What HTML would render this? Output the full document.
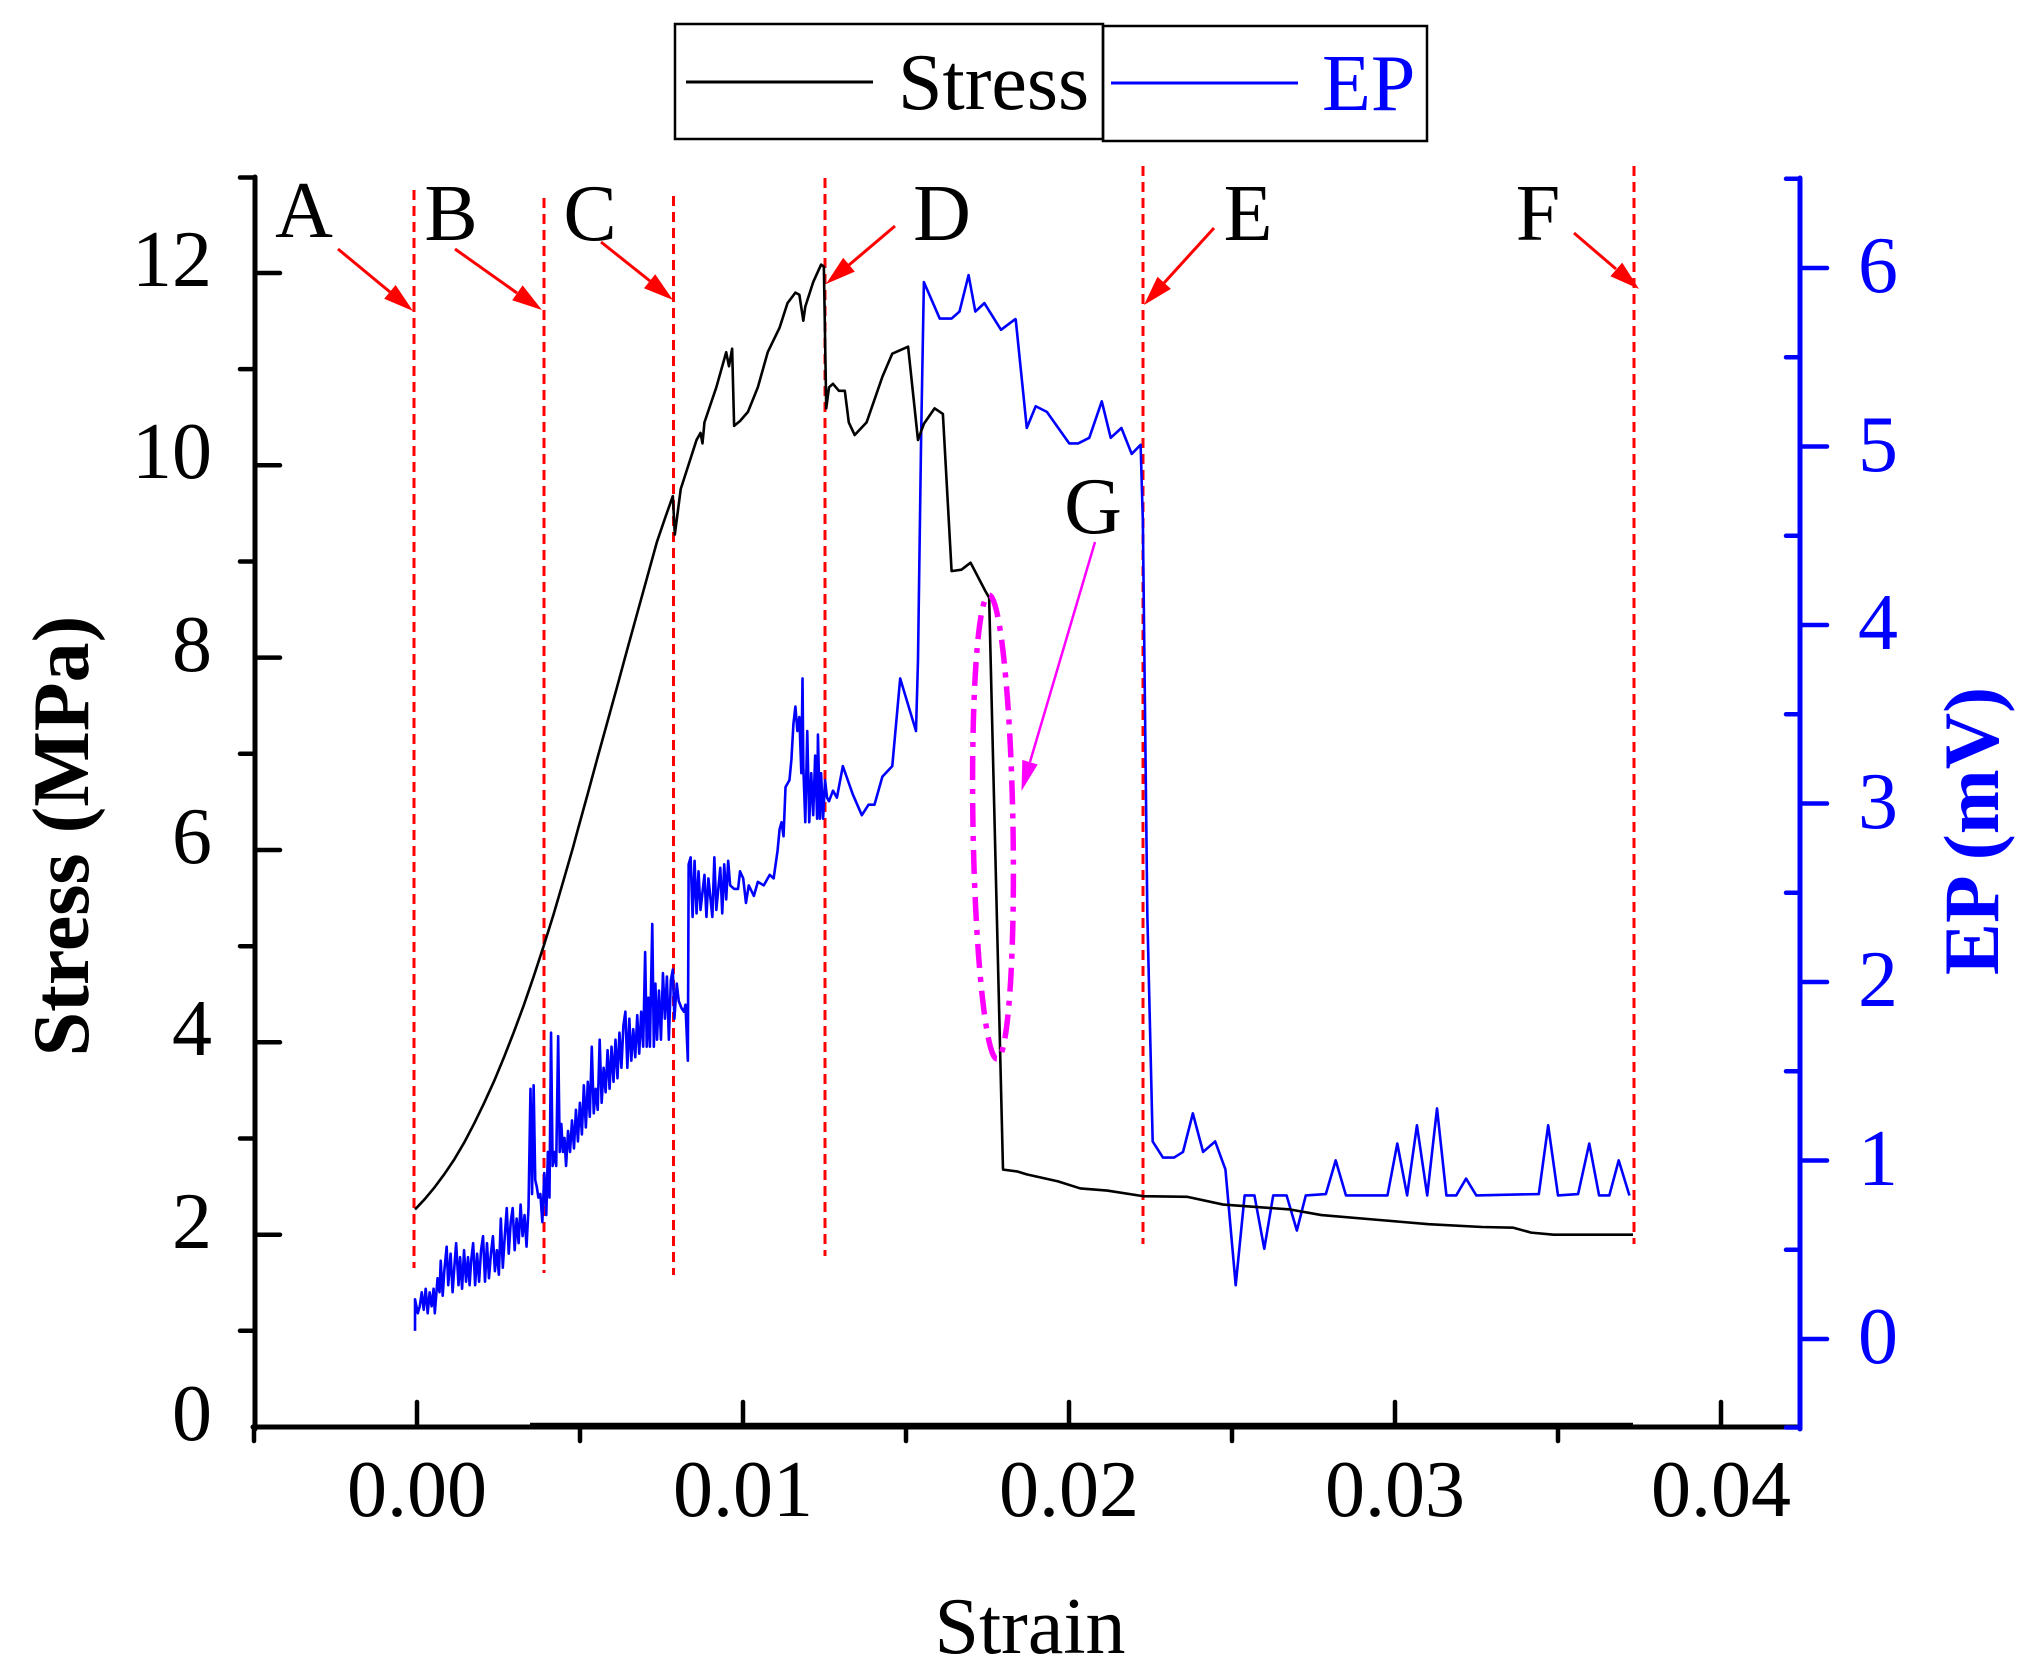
<!DOCTYPE html>
<html>
<head>
<meta charset="utf-8">
<style>
html,body{margin:0;padding:0;background:#fff;}
svg{display:block;}
text{font-family:"Liberation Serif","Times New Roman",serif;}
</style>
</head>
<body>
<svg width="2039" height="1676" viewBox="0 0 2039 1676" xmlns="http://www.w3.org/2000/svg">
<rect x="0" y="0" width="2039" height="1676" fill="#fff"/>

<!-- Legend -->
<rect x="675" y="24" width="428" height="115" fill="none" stroke="#000" stroke-width="2.5"/>
<rect x="1103" y="26" width="324" height="115" fill="none" stroke="#000" stroke-width="2.5"/>
<line x1="686" y1="82" x2="873" y2="82" stroke="#000" stroke-width="3"/>
<text x="898" y="109" font-size="80" fill="#000">Stress</text>
<line x1="1111" y1="83" x2="1298" y2="83" stroke="#0000ff" stroke-width="3"/>
<text x="1322" y="110" font-size="80" fill="#0000ff">EP</text>

<!-- thin near-zero line -->
<line x1="530" y1="1424" x2="1633" y2="1424" stroke="#000" stroke-width="2.5"/>

<!-- Red dashed vertical lines -->
<g stroke="#ff0000" stroke-width="3" stroke-dasharray="10 6" fill="none">
<line x1="414" y1="190" x2="414" y2="1268"/>
<line x1="544" y1="198" x2="544" y2="1273"/>
<line x1="673.5" y1="196" x2="673.5" y2="1275"/>
<line x1="825" y1="178" x2="825" y2="1256"/>
<line x1="1143" y1="166" x2="1143" y2="1244"/>
<line x1="1634" y1="166" x2="1634" y2="1244"/>
</g>

<!-- EP curve -->
<g transform="translate(400,240) scale(0.3954,0.7015)">
<polyline vector-effect="non-scaling-stroke" fill="none" stroke="#0000ff" stroke-width="2.6" stroke-linejoin="round" points="38,1555 38,1510 45,1530 50,1520 55,1500 60,1525 65,1495 70,1530 75,1500 80,1520 85,1495 88,1530 95,1480 100,1500 103,1455 108,1505 112,1470 118,1435 122,1490 128,1445 133,1500 138,1460 142,1430 148,1490 152,1450 157,1495 162,1440 167,1485 172,1450 176,1490 180,1455 185,1430 190,1490 195,1445 200,1485 205,1440 210,1420 215,1485 220,1430 225,1480 230,1445 235,1420 240,1470 245,1440 250,1475 255,1395 260,1465 265,1420 270,1380 275,1445 280,1400 285,1380 290,1440 295,1395 300,1430 305,1375 310,1420 315,1390 320,1435 325,1380 330,1210 334,1360 338,1205 342,1340 346,1350 350,1365 355,1360 360,1400 365,1330 370,1390 374,1300 378,1365 382,1130 386,1320 390,1300 395,1320 400,1135 404,1300 408,1260 412,1300 416,1280 420,1320 425,1270 430,1300 435,1255 440,1295 445,1240 450,1285 455,1230 460,1275 465,1205 470,1265 475,1200 480,1250 485,1150 490,1245 495,1210 500,1240 505,1140 510,1230 515,1180 520,1215 525,1155 530,1210 535,1150 540,1200 545,1140 550,1195 555,1130 560,1180 565,1120 570,1100 575,1180 580,1110 585,1170 590,1125 595,1165 600,1105 605,1160 610,1100 615,1150 620,1015 624,1150 628,1080 632,1150 638,975 642,1150 646,1060 650,1140 655,1070 660,1140 665,1045 670,1110 675,1050 680,1140 685,1055 690,1040 694,1110 700,1060 705,1085 712,1095 718,1100 722,1090 728,1170 730,890 735,880 740,965 745,885 750,960 755,900 760,955 770,905 775,965 780,910 790,965 795,880 800,955 810,895 815,960 820,890 825,940 830,885 835,920 845,925 855,925 860,900 868,910 875,945 882,920 895,935 905,915 920,920 935,905 945,910 955,870 960,840 965,830 970,850 975,780 985,770 990,740 995,690 1000,665 1005,700 1010,680 1015,760 1018,625 1020,750 1025,830 1030,700 1035,830 1040,760 1045,820 1050,735 1055,825 1057,705 1062,825 1065,760 1070,825 1075,770 1080,795 1085,800 1095,785 1105,795 1110,780 1120,750 1145,790 1168,820 1185,805 1200,805 1220,765 1245,750 1265,625 1305,700 1310,600 1318,280 1325,60 1365,112 1395,112 1415,102 1438,50 1455,102 1478,90 1520,128 1558,112"/>
</g>
<g transform="translate(1000,240) scale(0.4464,0.7015)">
<polyline vector-effect="non-scaling-stroke" fill="none" stroke="#0000ff" stroke-width="2.6" stroke-linejoin="round" points="35,112 60,268 80,237 105,245 155,290 175,290 200,282 228,230 248,282 272,268 295,305 315,292 320,400 330,960 342,1285 365,1308 390,1308 410,1300 432,1245 455,1300 482,1285 505,1325 528,1490 548,1362 570,1362 592,1438 612,1362 642,1362 665,1412 685,1362 730,1360 752,1312 775,1362 868,1362 890,1288 912,1362 934,1262 957,1362 979,1238 1000,1362 1022,1362 1044,1338 1067,1362 1207,1360 1228,1262 1250,1362 1295,1360 1320,1288 1342,1362 1365,1362 1386,1312 1410,1362"/>
</g>

<!-- Stress curve -->
<g transform="translate(400,240) scale(0.3954,0.7015)">
<polyline vector-effect="non-scaling-stroke" fill="none" stroke="#000" stroke-width="2.6" stroke-linejoin="round" points="38,1382 63,1367 88,1350 113,1331 138,1310 163,1286 188,1259 213,1230 238,1199 263,1165 288,1129 313,1091 338,1050 363,1007 388,962 413,914 438,865 450,840 475,789 500,737 525,686 550,635 575,583 600,532 625,481 650,430 670,397 690,365 695,420 710,355 730,320 750,285 760,275 765,290 770,260 800,210 825,160 832,180 840,155 845,265 860,258 880,245 905,210 930,160 960,125 980,90 1000,75 1010,78 1020,115 1025,95 1045,60 1065,35 1072,38 1078,240 1085,210 1095,205 1110,215 1125,215 1135,260 1150,278 1180,260 1220,195 1245,162 1285,152 1310,285 1325,262 1352,240 1373,248 1395,472 1420,470 1443,460 1480,500 1490,510 1525,1325"/>
</g>
<g transform="translate(1000,240) scale(0.4464,0.7015)">
<polyline vector-effect="non-scaling-stroke" fill="none" stroke="#000" stroke-width="2.6" stroke-linejoin="round" points="5,1325 40,1328 60,1332 130,1342 180,1352 240,1355 320,1363 420,1364 500,1375 650,1382 720,1390 850,1397 960,1403 1080,1407 1150,1408 1190,1415 1240,1418 1418,1418"/>
</g>

<!-- Magenta ellipse and arrow -->
<ellipse cx="993" cy="827" rx="20" ry="232" fill="none" stroke="#ff00ff" stroke-width="5.5" stroke-dasharray="24 9 5 9" transform="rotate(-1 993 827)"/>
<line x1="1095" y1="542" x2="1030" y2="762" stroke="#ff00ff" stroke-width="2.5"/>
<polygon points="1021.5,791 1037.7,764.5 1022.3,759.9" fill="#ff00ff"/>
<text x="1093" y="533" font-size="80" text-anchor="middle" fill="#000">G</text>

<!-- Red arrows -->
<g stroke="#ff0000" stroke-width="3">
<line x1="338" y1="249" x2="390" y2="292"/>
<line x1="455" y1="249" x2="517" y2="293"/>
<line x1="601" y1="242" x2="650" y2="281"/>
<line x1="895" y1="226" x2="849" y2="265"/>
<line x1="1214" y1="228" x2="1164" y2="283"/>
<line x1="1574" y1="233" x2="1616" y2="269"/>
</g>
<g fill="#ff0000">
<polygon points="413,311 384.2,298.8 395.6,285"/>
<polygon points="542,310 512.2,300.2 522.6,285.4"/>
<polygon points="673,300 644,288.2 655.2,274.2"/>
<polygon points="826,284 843.2,257.8 854.8,271.6"/>
<polygon points="1144,305 1157.5,276.7 1170.9,288.9"/>
<polygon points="1639,289 1610.4,276.2 1622.2,262.6"/>
</g>

<!-- Point letters -->
<g font-size="80" fill="#000" text-anchor="middle">
<text x="304" y="237">A</text>
<text x="451" y="240">B</text>
<text x="590" y="240">C</text>
<text x="942" y="240">D</text>
<text x="1248" y="240">E</text>
<text x="1538" y="240">F</text>
</g>

<!-- Axes -->
<g stroke="#000" stroke-width="5" stroke-linecap="round">
<line x1="255" y1="177" x2="255" y2="1429"/>
<line x1="253" y1="1427" x2="1800" y2="1427"/>
</g>
<g stroke="#000" stroke-width="4.5" stroke-linecap="round">
<line x1="255" y1="1234.7" x2="280" y2="1234.7"/>
<line x1="255" y1="1042.3" x2="280" y2="1042.3"/>
<line x1="255" y1="850" x2="280" y2="850"/>
<line x1="255" y1="657.6" x2="280" y2="657.6"/>
<line x1="255" y1="465.3" x2="280" y2="465.3"/>
<line x1="255" y1="273" x2="280" y2="273"/>
<line x1="240" y1="1330.8" x2="255" y2="1330.8"/>
<line x1="240" y1="1138.5" x2="255" y2="1138.5"/>
<line x1="240" y1="946.2" x2="255" y2="946.2"/>
<line x1="240" y1="753.8" x2="255" y2="753.8"/>
<line x1="240" y1="561.5" x2="255" y2="561.5"/>
<line x1="240" y1="369.1" x2="255" y2="369.1"/>
<line x1="240" y1="177.5" x2="255" y2="177.5"/>
<line x1="417" y1="1427" x2="417" y2="1402"/>
<line x1="743" y1="1427" x2="743" y2="1402"/>
<line x1="1069" y1="1427" x2="1069" y2="1402"/>
<line x1="1395" y1="1427" x2="1395" y2="1402"/>
<line x1="1721" y1="1427" x2="1721" y2="1402"/>
<line x1="254" y1="1427" x2="254" y2="1441"/>
<line x1="580" y1="1427" x2="580" y2="1441"/>
<line x1="906" y1="1427" x2="906" y2="1441"/>
<line x1="1232" y1="1427" x2="1232" y2="1441"/>
<line x1="1558" y1="1427" x2="1558" y2="1441"/>
</g>

<!-- Right axis -->
<g stroke="#0000ff" stroke-width="5" stroke-linecap="round">
<line x1="1800" y1="178" x2="1800" y2="1429"/>
</g>
<g stroke="#0000ff" stroke-width="4.5" stroke-linecap="round">
<line x1="1800" y1="1339" x2="1827" y2="1339"/>
<line x1="1800" y1="1160.5" x2="1827" y2="1160.5"/>
<line x1="1800" y1="982" x2="1827" y2="982"/>
<line x1="1800" y1="803.5" x2="1827" y2="803.5"/>
<line x1="1800" y1="625" x2="1827" y2="625"/>
<line x1="1800" y1="446.5" x2="1827" y2="446.5"/>
<line x1="1800" y1="268" x2="1827" y2="268"/>
<line x1="1786" y1="1427.5" x2="1800" y2="1427.5"/>
<line x1="1786" y1="1249.8" x2="1800" y2="1249.8"/>
<line x1="1786" y1="1071.3" x2="1800" y2="1071.3"/>
<line x1="1786" y1="892.8" x2="1800" y2="892.8"/>
<line x1="1786" y1="714.3" x2="1800" y2="714.3"/>
<line x1="1786" y1="535.8" x2="1800" y2="535.8"/>
<line x1="1786" y1="357.3" x2="1800" y2="357.3"/>
<line x1="1786" y1="178.8" x2="1800" y2="178.8"/>
</g>

<!-- Left tick labels -->
<g font-size="80" fill="#000" text-anchor="end">
<text x="212" y="1440">0</text>
<text x="212" y="1248">2</text>
<text x="212" y="1055">4</text>
<text x="212" y="863">6</text>
<text x="212" y="671">8</text>
<text x="212" y="478">10</text>
<text x="212" y="286">12</text>
</g>

<!-- Right tick labels -->
<g font-size="80" fill="#0000ff" text-anchor="middle">
<text x="1878" y="1363">0</text>
<text x="1878" y="1185">1</text>
<text x="1878" y="1006">2</text>
<text x="1878" y="828">3</text>
<text x="1878" y="649">4</text>
<text x="1878" y="471">5</text>
<text x="1878" y="292">6</text>
</g>

<!-- Bottom tick labels -->
<g font-size="80" fill="#000" text-anchor="middle">
<text x="417" y="1516">0.00</text>
<text x="743" y="1516">0.01</text>
<text x="1069" y="1516">0.02</text>
<text x="1395" y="1516">0.03</text>
<text x="1721" y="1516">0.04</text>
</g>

<!-- Axis titles -->
<text x="1030" y="1653" font-size="80" fill="#000" text-anchor="middle">Strain</text>
<text transform="translate(88,836) rotate(-90)" font-size="80" font-weight="bold" fill="#000" text-anchor="middle">Stress (MPa)</text>
<text transform="translate(1998,831) rotate(-90)" font-size="78" font-weight="bold" fill="#0000ff" text-anchor="middle">EP (mV)</text>
</svg>
</body>
</html>
